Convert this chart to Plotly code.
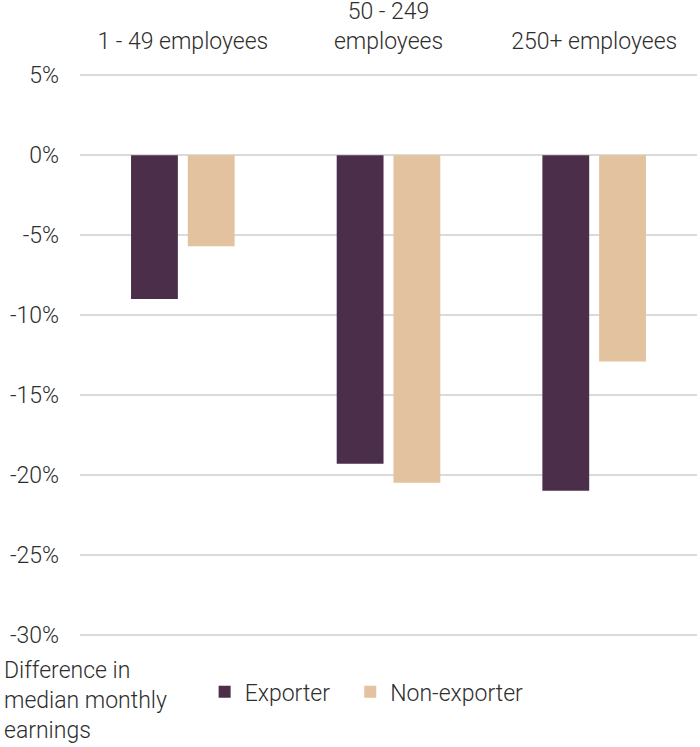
import plotly.graph_objects as go

categories = ["1 - 49 employees", "50 - 249<br>employees", "250+ employees"]
exporter = [-9.0, -19.3, -21.0]
non_exporter = [-5.7, -20.5, -12.9]
y_ticks = [5, 0, -5, -10, -15, -20, -25, -30]
y_tick_labels = ["5%", "0%", "-5%", "-10%", "-15%", "-20%", "-25%", "-30%"]

FONT = "Roboto"
TXT = "#2E2E2E"
FS = 23
W = 300

fig = go.Figure()
fig.add_trace(go.Bar(name="Exporter", x=categories, y=exporter, legend="legend",
                     marker=dict(color="#4B2E4A", line=dict(width=0))))
fig.add_trace(go.Bar(name="Non-exporter", x=categories, y=non_exporter, legend="legend2",
                     marker=dict(color="#E2C29F", line=dict(width=0))))

leg = dict(orientation="h", xanchor="left", y=-0.097, yanchor="middle",
           font=dict(size=FS, color=TXT, weight=W), bgcolor="rgba(0,0,0,0)")

fig.update_layout(
    width=700, height=747,
    margin=dict(l=80, r=3, t=73, b=110, autoexpand=False),
    paper_bgcolor="white", plot_bgcolor="white",
    barmode="group", bargap=0.448, bargroupgap=0.175,
    font=dict(family=FONT, size=FS, color=TXT, weight=W),
    showlegend=True,
    legend=dict(leg, x=0.202),
    legend2=dict(leg, x=0.438),
    hovermode=False,
)
fig.update_xaxes(side="top", showgrid=False, showline=False, zeroline=False, automargin=False,
                 ticks="", tickfont=dict(size=FS, color=TXT, weight=W), ticklabelstandoff=18)
fig.update_yaxes(range=[-30.15, 5.15], tickvals=y_ticks, ticktext=y_tick_labels,
                 showgrid=True, gridcolor="#DADADA", gridwidth=2, automargin=False,
                 zeroline=True, zerolinecolor="#DADADA", zerolinewidth=2,
                 showline=False, ticks="", ticklabelstandoff=20,
                 tickfont=dict(size=FS, color=TXT, weight=W))

fig.add_annotation(text="Difference in<br>median monthly<br>earnings",
                   xref="paper", yref="paper", x=-0.1264, y=-0.0323,
                   xanchor="left", yanchor="top", align="left", showarrow=False,
                   font=dict(size=FS, color=TXT, weight=W))

fig.write_html("out.html", config={"displayModeBar": False, "staticPlot": True},
               post_script="document.body.style.margin='0';document.body.style.overflow='hidden';")
